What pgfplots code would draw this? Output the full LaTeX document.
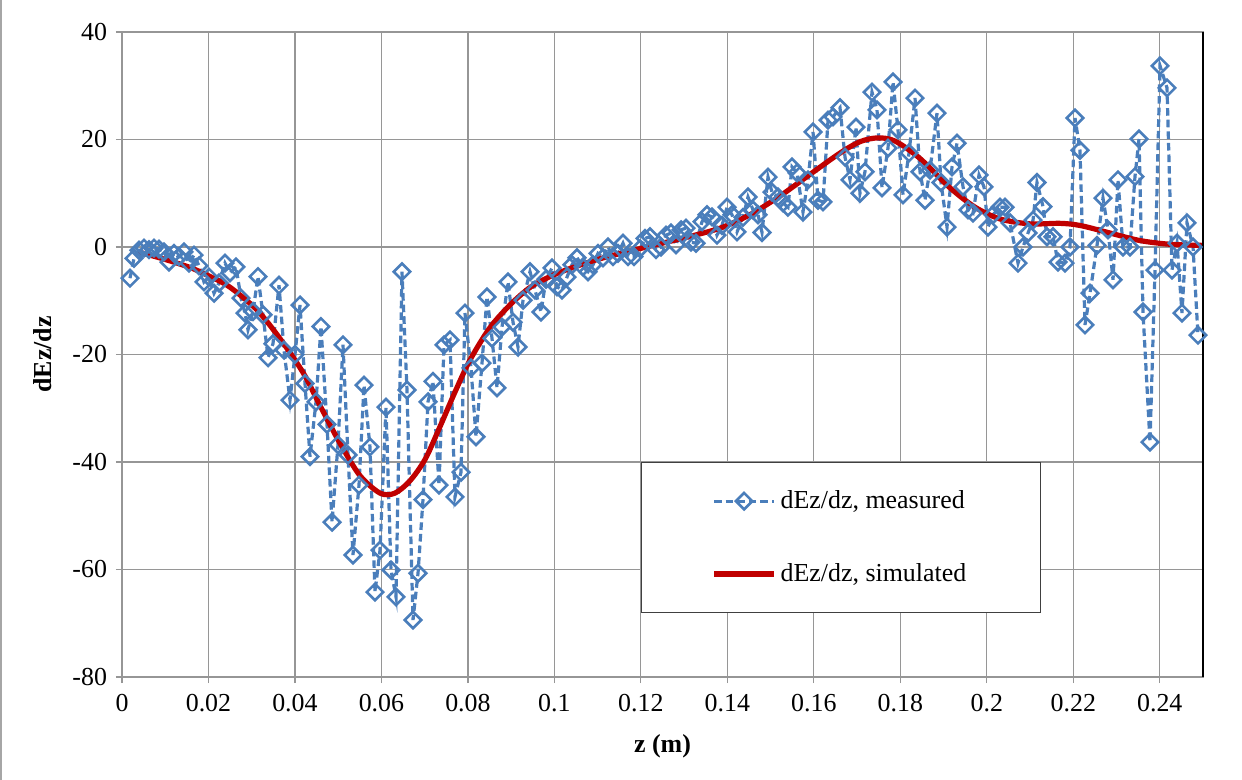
\documentclass[border=0pt]{standalone}
\usepackage{fontspec}
\setmainfont{Liberation Serif}
\usepackage{pgfplots}
\usepackage{pgfplotstable}
\pgfplotsset{compat=1.18}
\definecolor{measblue}{RGB}{74,126,187}
\definecolor{simred}{RGB}{192,0,0}
\definecolor{gridgray}{RGB}{150,150,150}

\pgfplotstableread{
z v
0.00185 -5.8
0.00278 -2.1
0.00393 -0.6
0.00509 -0.2
0.00624 -0.5
0.00740 -0.2
0.00856 -0.4
0.00971 -0.9
0.01087 -2.8
0.01203 -1.2
0.01318 -1.8
0.01434 -0.9
0.01549 -3.0
0.01665 -1.5
0.01781 -3.5
0.01896 -6.5
0.02012 -5.6
0.02128 -8.6
0.02243 -6.7
0.02382 -3.0
0.02498 -4.8
0.02636 -3.7
0.02752 -9.5
0.02845 -12.3
0.02914 -15.4
0.03030 -12.0
0.03145 -5.5
0.03261 -12.6
0.03377 -20.6
0.03492 -18.0
0.03631 -7.1
0.03747 -19.2
0.03885 -28.5
0.04001 -20.0
0.04117 -10.8
0.04232 -25.4
0.04348 -39.0
0.04487 -28.8
0.04602 -14.8
0.04741 -33.0
0.04857 -51.2
0.04995 -36.8
0.05111 -18.2
0.05227 -38.7
0.05342 -57.3
0.05481 -44.3
0.05597 -25.7
0.05735 -37.2
0.05851 -64.2
0.05967 -56.4
0.06105 -29.8
0.06221 -60.1
0.06337 -65.1
0.06475 -4.6
0.06591 -26.6
0.06730 -69.4
0.06846 -60.7
0.06961 -47.0
0.07077 -28.8
0.07192 -25.0
0.07331 -44.3
0.07447 -18.2
0.07586 -17.3
0.07701 -46.5
0.07840 -41.9
0.07932 -12.3
0.08071 -22.5
0.08187 -35.3
0.08326 -21.6
0.08441 -9.3
0.08557 -17.0
0.08673 -26.2
0.08788 -14.9
0.08927 -6.5
0.09043 -14.0
0.09158 -18.6
0.09274 -9.9
0.09436 -4.6
0.09551 -8.0
0.09690 -12.1
0.09806 -6.0
0.09945 -3.9
0.10060 -7.4
0.10176 -8.0
0.10291 -5.6
0.10407 -3.3
0.10523 -2.0
0.10661 -3.7
0.10777 -4.6
0.10893 -3.3
0.11008 -1.2
0.11124 -2.0
0.11240 0.0
0.11355 -1.8
0.11471 -1.2
0.11586 0.7
0.11702 -1.8
0.11841 -1.8
0.11980 -0.3
0.12095 1.6
0.12211 1.9
0.12350 -0.5
0.12465 0.0
0.12581 2.2
0.12697 2.6
0.12812 0.4
0.12928 3.2
0.13043 3.5
0.13159 0.9
0.13275 0.7
0.13414 4.7
0.13529 6.0
0.13645 5.6
0.13760 2.2
0.13876 4.0
0.13992 7.4
0.14107 6.0
0.14223 2.8
0.14362 5.5
0.14477 9.3
0.14593 6.9
0.14709 6.0
0.14801 2.7
0.14940 13.0
0.15032 10.2
0.15171 9.3
0.15287 8.2
0.15402 7.4
0.15495 14.9
0.15611 13.8
0.15749 6.5
0.15865 12.5
0.15981 21.4
0.16096 8.7
0.16212 8.4
0.16328 23.6
0.16443 24.2
0.16605 25.9
0.16721 16.7
0.16836 12.5
0.16975 22.3
0.17067 10.0
0.17183 14.0
0.17345 28.8
0.17461 25.5
0.17576 11.0
0.17715 18.4
0.17831 30.7
0.17946 21.8
0.18062 9.7
0.18201 17.5
0.18340 27.7
0.18455 14.0
0.18571 8.7
0.18686 14.3
0.18848 24.9
0.18941 12.0
0.19080 3.7
0.19195 14.9
0.19311 19.3
0.19450 11.2
0.19565 6.9
0.19681 6.3
0.19820 13.4
0.19935 11.2
0.20028 3.7
0.20143 6.0
0.20305 7.4
0.20421 7.4
0.20537 4.5
0.20722 -3.0
0.20837 0.0
0.20953 2.6
0.21069 5.0
0.21161 12.0
0.21300 7.5
0.21392 1.9
0.21531 1.9
0.21647 -2.8
0.21809 -3.0
0.21924 0.0
0.22040 24.0
0.22155 18.0
0.22271 -14.5
0.22387 -8.6
0.22549 0.3
0.22687 9.1
0.22803 3.2
0.22919 -6.1
0.23034 12.5
0.23150 0.0
0.23312 0.0
0.23427 13.1
0.23520 20.1
0.23612 -12.1
0.23774 -36.3
0.23890 -4.3
0.24006 33.7
0.24168 29.6
0.24283 -4.3
0.24399 0.7
0.24514 -12.3
0.24630 4.5
0.24769 0.0
0.24884 -16.4
}\measured

\pgfplotstableread{
z v
0.0037 -0.9
0.0099 -2.3
0.0157 -3.8
0.0204 -5.5
0.0250 -7.5
0.0312 -11.7
0.0365 -17.0
0.0419 -23.4
0.0458 -29.5
0.0504 -36.5
0.0550 -42.5
0.0597 -45.8
0.0631 -45.8
0.0666 -43.5
0.0701 -39.5
0.0735 -33.5
0.0770 -27.0
0.0805 -21.0
0.0851 -15.0
0.0897 -10.8
0.0944 -7.5
0.0990 -5.5
0.1036 -4.0
0.1105 -2.2
0.1198 -0.3
0.1290 1.5
0.1383 3.5
0.1452 6.0
0.1522 9.5
0.1591 13.5
0.1661 17.5
0.1707 19.6
0.1748 20.3
0.1788 19.7
0.1845 16.5
0.1915 11.0
0.1973 7.4
0.2031 5.2
0.2100 4.3
0.2169 4.4
0.2216 4.0
0.2285 2.6
0.2354 1.2
0.2424 0.5
0.2500 0.3
}\simulated

\begin{document}
\begin{tikzpicture}
\path[use as bounding box] (-61bp,-51.5bp) rectangle (560bp,338.5bp);
\draw[gray!70, line width=1bp] (-60.5bp,-51.5bp) -- (-60.5bp,338.5bp);
\begin{axis}[
  at={(0,0)}, anchor=south west,
  scale only axis, width=540.5bp, height=322.5bp,
  xmin=0, xmax=0.25, ymin=-80, ymax=40,
  xtick={0,0.02,0.04,0.06,0.08,0.1,0.12,0.14,0.16,0.18,0.2,0.22,0.24},
  xticklabels={0,0.02,0.04,0.06,0.08,0.1,0.12,0.14,0.16,0.18,0.2,0.22,0.24},
  ytick={-80,-60,-40,-20,0,20,40},
  yticklabels={-80,-60,-40,-20,0,20,40},
  grid=major,
  major grid style={gridgray, line width=0.6bp},
  axis line style={gridgray, line width=0.6bp},
  tick style={gridgray, line width=0.6bp},
  tick align=outside, major tick length=3bp,
  xtick pos=bottom, ytick pos=left,
  /pgf/number format/assume math mode=true,
  tick label style={font=\fontsize{13}{15}\selectfont, black},
  xticklabel style={yshift=-2bp},
  yticklabel style={xshift=-1bp},
  every axis x label/.style={at={(axis description cs:0.5,-0.107)}, anchor=center},
  every axis y label/.style={at={(axis description cs:-0.0731,0.5)}, rotate=90, anchor=center},
  xlabel={\textbf{z (m)}},
  ylabel={\textbf{dEz/dz}},
  label style={font=\fontsize{13}{15}\selectfont},
  legend cell align=left,
  legend style={at={(rel axis cs:0.480,0.099)}, anchor=south west,
    draw=black!75, line width=0.6bp, fill=white,
    font=\fontsize{13}{15}\selectfont,
    inner xsep=35bp, inner ysep=12bp, row sep=22bp,
    /tikz/every even column/.append style={column sep=0bp}},
  legend image code/.code={\draw[mark repeat=2,mark phase=2,#1] plot coordinates {(0bp,0bp) (15bp,0bp) (30bp,0bp)};},
  clip=false,
]
\addplot[measblue, line width=1.6bp, dash pattern=on 3.8bp off 2bp,
  mark=square, mark size=2.9bp,
  mark options={solid, rotate=45, line width=1.3bp, fill=none}]
  table[x=z,y=v]{\measured};
\addlegendentry{dEz/dz, measured}
\addplot[simred, line width=2.6bp, smooth, tension=0.5] table[x=z,y=v]{\simulated};
\addlegendentry{dEz/dz, simulated}
\draw[black, line width=1bp] (rel axis cs:1,0) -- (rel axis cs:1,1);
\end{axis}
\end{tikzpicture}
\end{document}
